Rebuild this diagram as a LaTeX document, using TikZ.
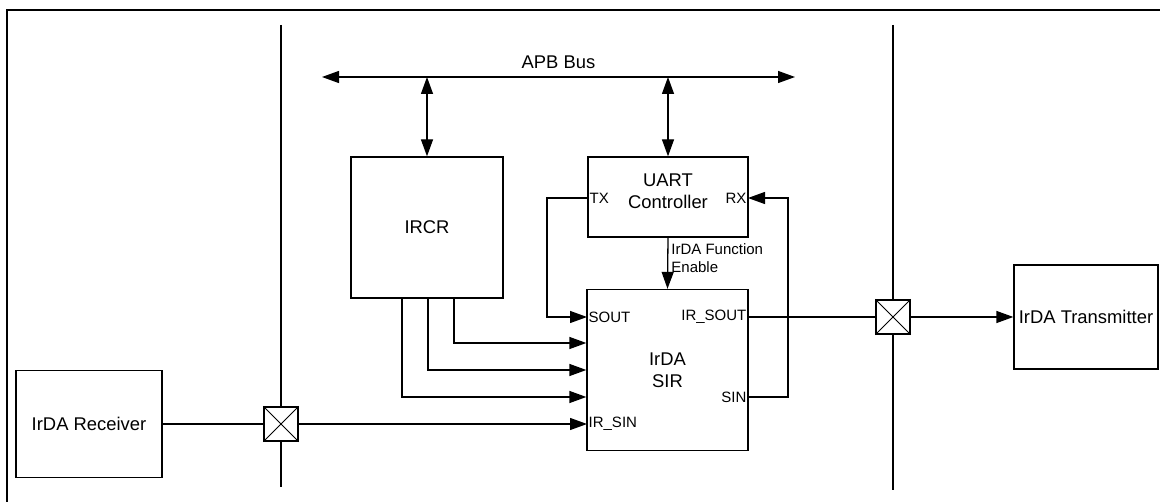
\documentclass[tikz,border=0pt]{standalone}
\usepackage{fontspec}
\setmainfont{Liberation Sans}
\usetikzlibrary{arrows.meta}

\begin{document}
\begin{tikzpicture}[x=1pt, y=-1pt, line width=1.3pt,
        font=\fontsize{18.4}{22}\selectfont,
        >={Triangle[length=17pt, width=12pt]},
        blk/.style={draw, inner sep=0pt, align=center},
        port/.style={inner sep=1pt, font=\fontsize{15}{18}\selectfont},
        xbox/.style={draw, fill=white, minimum size=34pt, inner sep=0pt},
        sig/.style={->}]
    \useasboundingbox (0,0) rectangle (1160,502);
    % frame
    \draw[line width=2.2pt] (1160,10) -- (7,10) -- (7,502);

    % dividers
    \coordinate (d1t) at (281,25);
    \coordinate (d1b) at (281,487);
    \coordinate (d2t) at (893,25);
    \coordinate (d2b) at (893,490);
    \draw (d1t) -- (d1b);
    \draw (d2t) -- (d2b);

    % blocks
    \node[blk, minimum width=146, minimum height=107] (rcv) at (89,424) {IrDA Receiver};
    \node[blk, minimum width=152, minimum height=141] (ircr) at (427,227.5) {IRCR};
    \node[blk, minimum width=160, minimum height=80] (uart) at (668,197) {};
    \node[align=center, inner sep=0pt] (uartl) at (668,191) {UART\\Controller};
    \node[blk, minimum width=161, minimum height=161] (sir) at (667.5,370) {IrDA\\SIR};
    \node[blk, minimum width=144, minimum height=104] (txm) at (1086,317) {IrDA Transmitter};

    % ports
    \node[port, anchor=west] (tx) at (588,198) {TX};
    \node[port, anchor=east] (rx) at (748,198) {RX};
    \node[port, anchor=west] (sout) at (587,317) {SOUT};
    \node[port, anchor=east] (irsout) at (748,317) {IR\_SOUT};
    \node[port, anchor=east] (sin) at (748,397) {SIN};
    \node[port, anchor=west] (irsin) at (587,424) {IR\_SIN};

    % APB bus
    \coordinate (busl) at (322,77);
    \coordinate (busr) at (795,77);
    \draw[<->] (busl) -- node[above=8pt, inner sep=0pt] (apb) {APB Bus} (busr);
    \draw[<->] (ircr.north |- busl) -- (ircr.north);
    \draw[<->] (uart.north |- busl) -- (uart.north);

    % control lines
    \draw[sig] (uart.south) -- node[right, port, align=left, xshift=2pt, yshift=5pt] (fen)
        {IrDA Function\\Enable} (sir.north);
    \coordinate (txc) at (547,0);
    \draw[sig] (tx.west) -| (txc |- sout.west) -- (sout.west);
    \draw[sig] (sin.east) -- ++(40,0) |- (rx.east);
    \foreach \dx/\dy in {-25/-27, 1/0, 27/27}
        \draw[sig] ([xshift=\dx]ircr.south) |- ([yshift=\dy]sir.west);

    % IrDA signals
    \node[xbox] (xl) at (281,424) {};
    \node[xbox] (xr) at (893,317) {};
    \draw[line width=1pt] (xl.north west) -- (xl.south east) (xl.north east) -- (xl.south west);
    \draw[line width=1pt] (xr.north west) -- (xr.south east) (xr.north east) -- (xr.south west);
    \draw (rcv.east) -- (xl.west);
    \draw[sig] (xl.east) -- (irsin.west);
    \draw (irsout.east) -- (xr.west);
    \draw[sig] (xr.east) -- (txm.west);
\end{tikzpicture}
\end{document}
